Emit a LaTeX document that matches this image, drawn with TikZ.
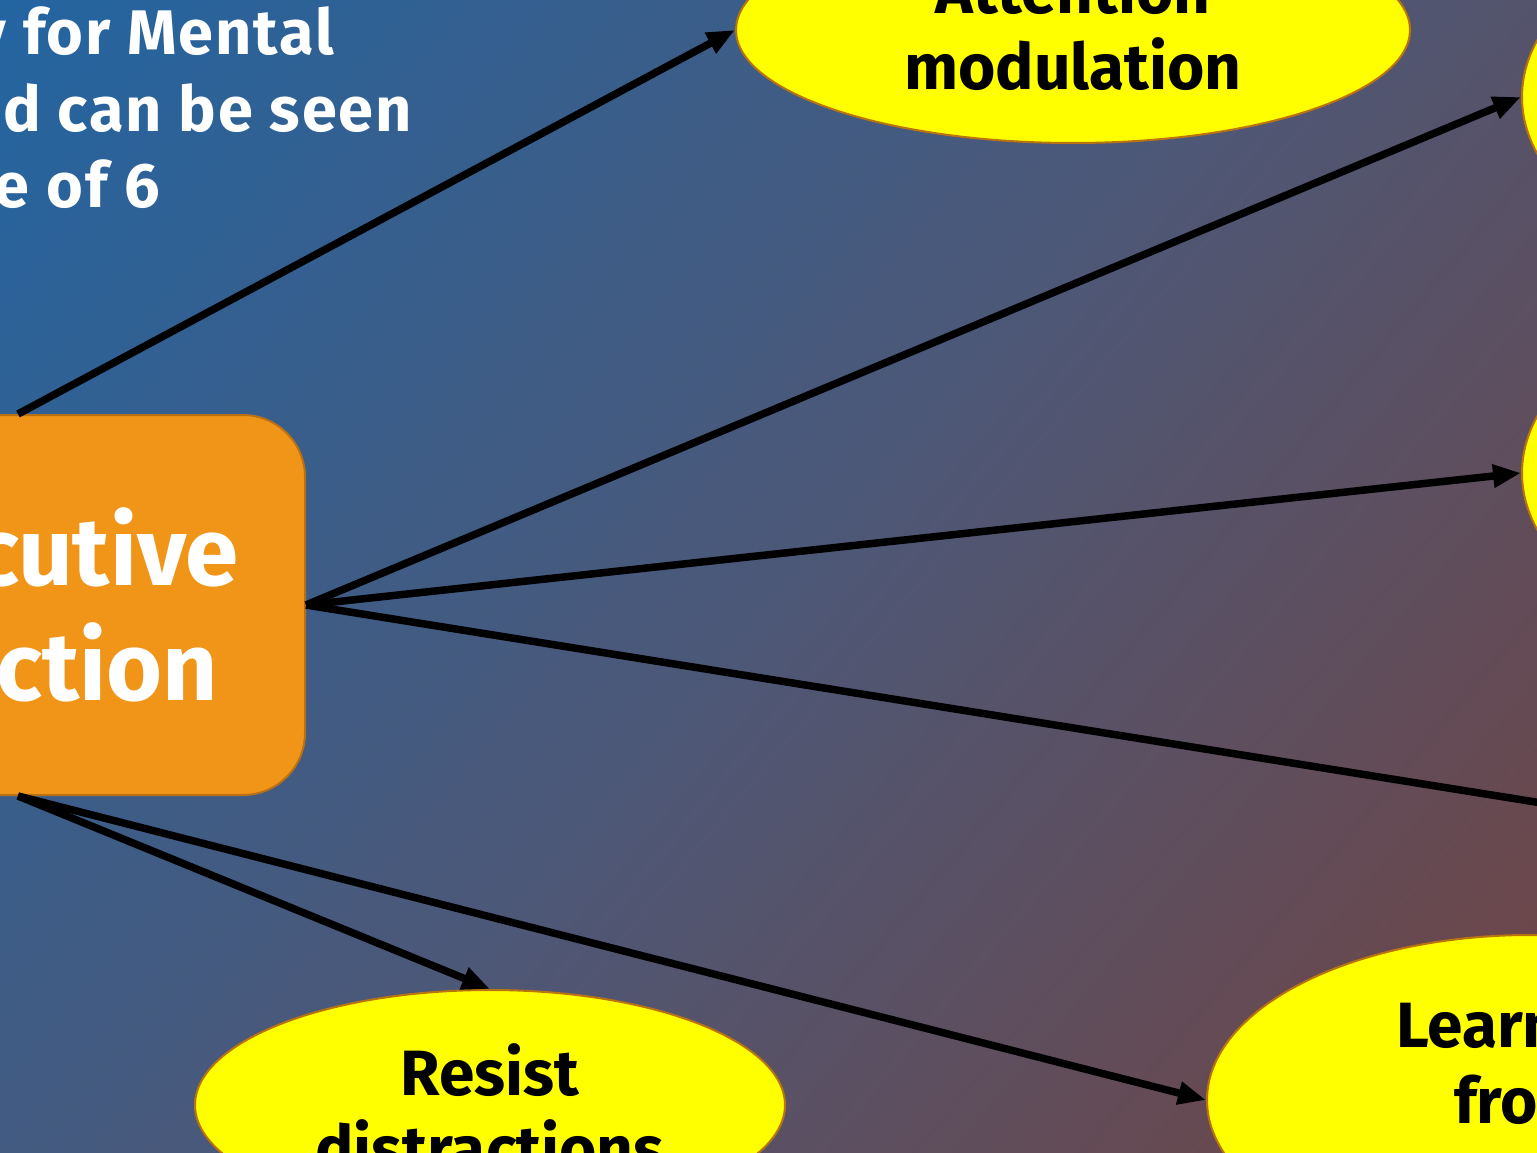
\documentclass[tikz,border=0pt]{standalone}
\usepackage{fontspec}
\setmainfont{Fira Sans}
\usetikzlibrary{arrows.meta,shapes.geometric,calc}
\definecolor{bgA}{RGB}{18,106,178}
\definecolor{bgB}{RGB}{76,88,120}
\definecolor{bgC}{RGB}{128,60,45}
\definecolor{boxfill}{RGB}{240,149,24}
\definecolor{boxline}{RGB}{185,112,20}
\definecolor{ellline}{RGB}{185,115,15}
\definecolor{ellfill}{RGB}{255,255,0}
\pgfdeclarehorizontalshading{slidebg}{100bp}{color(0bp)=(bgA); color(50bp)=(bgB); color(100bp)=(bgC)}
\tikzset{
  ell/.style={ellipse, draw=ellline, line width=2pt, fill=ellfill, inner sep=0pt},
  efbox/.style={rectangle, rounded corners=62pt, draw=boxline, line width=2pt, fill=boxfill, inner sep=0pt, minimum width=556pt, minimum height=380pt},
  elltext/.style={font=\fontsize{64}{76}\selectfont\bfseries, text=black, inner sep=0pt, anchor=base},
  boxtext/.style={font=\fontsize{96}{115}\selectfont\bfseries, text=white, inner sep=0pt, anchor=base},
  slidetext/.style={font=\fontsize{63}{76}\selectfont\bfseries\addfontfeatures{LetterSpace=3}, text=white, inner sep=0pt, anchor=base east},
  conn/.style={draw=black, line width=7.5pt, -{Triangle[length=28pt,width=22pt]}}
}
\begin{document}
\begin{tikzpicture}[x=1pt,y=-1pt]
\useasboundingbox (0,0) rectangle (1537,1153);
\clip (0,0) rectangle (1537,1153);
\shade[shading=slidebg, shading angle=-40] (0,0) rectangle (1537,1153);

% slide text (partly off-frame)
\node[slidetext] (s1) at (334,55) {y for Mental};
\node[slidetext] (s2) at (412,132) {d can be seen};
\node[slidetext] (s3) at (160,207) {e of 6};

% central box
\node[efbox] (ef) at (27,605) {};
\node[boxtext] (ef1) at (30,585) {Executive};
\node[boxtext] (ef2) at (30,700) {Function};

% ellipses
\node[ell, minimum width=674pt, minimum height=226pt] (att) at (1073,30) {};
\node[elltext] (att1) at (1073,14) {Attention};
\node[elltext] (att2) at (1073,90) {modulation};

\node[ell, minimum width=600pt, minimum height=360pt] (r1) at (1822,97) {};
\node[ell, minimum width=600pt, minimum height=360pt] (r2) at (1822,473) {};
\node[ell, minimum width=600pt, minimum height=360pt] (r3) at (1980,825) {};

\node[ell, minimum width=590pt, minimum height=230pt] (res) at (490,1105) {};
\node[elltext] (res1) at (490,1095) {Resist};
\node[elltext] (res2) at (490,1171) {distractions};

\node[ell, minimum width=646pt, minimum height=330pt] (lrn) at (1530,1100) {};
\node[elltext] (lrn1) at (1523,1047) {Learning};
\node[elltext] (lrn2) at (1523,1123) {from};

% connectors
\draw[conn] ($(ef.north)+(-9,0)$) -- (att.west);
\draw[conn] (ef.east) -- (r1.west);
\draw[conn] (ef.east) -- (r2.west);
\draw[conn] (ef.east) -- (r3.west);
\draw[conn] ($(ef.south)+(-9,0)$) -- (res.north);
\draw[conn] ($(ef.south)+(-9,0)$) -- (lrn.west);
\end{tikzpicture}
\end{document}
